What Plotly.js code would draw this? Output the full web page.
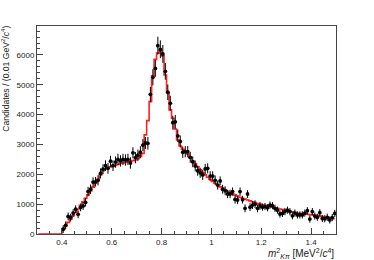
<!DOCTYPE html>
<html><head><meta charset="utf-8">
<script src="https://cdn.plot.ly/plotly-3.0.1.min.js"></script>
<style>html,body{margin:0;padding:0;background:#fff}#chart{width:374px;height:260px}</style>
</head><body><div id="chart"></div>
<script>
// bin width 0.01, data bins from 0.40 to 1.50
const binWidth = 0.01;
const dataStart = 0.40;
const counts = [160,290,590,550,700,830,660,890,940,1060,
  1420,1500,1740,1750,1800,2030,2170,2290,2200,2440,
  2290,2410,2500,2450,2500,2480,2500,2380,2720,2560,
  2640,2740,2980,3050,3040,4680,5250,5550,6312,6190,
  6034,5450,4750,4380,3730,3760,3290,3100,2740,2760,
  2760,2570,2420,2280,2120,2050,1980,2180,2200,1940,
  1940,1800,1640,1780,1500,1450,1340,1340,1420,1160,
  1140,1420,1150,860,1340,900,970,1000,860,940,
  900,920,880,970,950,860,800,670,690,750,
  800,750,610,700,640,640,640,700,780,500,
  750,600,560,715,520,510,560,470,550,690];
const errors = [130,130,130,130,130,130,130,130,130,140,
  160,160,160,160,170,170,170,180,180,180,
  180,190,190,190,190,190,190,190,190,190,
  190,200,200,200,210,250,270,280,300,300,
  300,280,260,250,230,230,210,200,190,190,
  190,180,180,180,170,170,170,170,170,160,
  160,160,150,150,150,150,140,140,140,140,
  140,140,130,130,130,130,130,130,130,130,
  120,120,120,120,120,120,120,120,120,120,
  120,120,120,120,120,120,120,120,120,120,
  120,120,120,120,120,120,120,120,120,120];
// fit histogram, bins from 0.30 to 1.50 (first ten bins empty)
const fitStart = 0.30;
const fitValues = [0,0,0,0,0,0,0,0,0,0,
  150,270,390,500,610,720,840,960,1080,1200,
  1310,1440,1570,1700,1830,1980,2120,2180,2220,2250,
  2280,2300,2330,2360,2380,2400,2420,2440,2460,2480,
  2520,2600,2700,3320,3800,4435,5300,5850,6060,6140,
  5970,5330,4740,4160,3880,3520,3150,2950,2840,2780,
  2680,2560,2450,2350,2250,2150,2060,1980,1900,1830,
  1760,1700,1640,1580,1530,1480,1430,1390,1350,1310,
  1270,1230,1200,1170,1140,1110,1080,1050,1020,1000,
  980,960,940,920,900,880,860,840,820,800,
  780,760,740,720,700,690,680,670,660,650,
  640,630,615,600,585,570,555,540,525,510];
const xTickVals = [0.4,0.6,0.8,1.0,1.2,1.4];
const xTickText = ['0.4','0.6','0.8','1','1.2','1.4'];
const yTickVals = [0,1000,2000,3000,4000,5000,6000];

const xData = counts.map((_, i) => +(dataStart + binWidth*(i+0.5)).toFixed(4));
const xFit = fitValues.map((_, i) => +(fitStart + binWidth*(i+0.5)).toFixed(4));

const traces = [
  {x: xFit, y: fitValues, type: 'scatter', mode: 'lines',
   line: {shape: 'hvh', color: '#ff2020', width: 1.6}, hoverinfo: 'skip'},
  {x: xData, y: counts, type: 'scatter', mode: 'markers',
   marker: {color: '#000', size: 3.8},
   error_y: {type: 'data', array: errors, color: '#000', thickness: 1, width: 0},
   error_x: {type: 'constant', value: binWidth/2, color: '#000', thickness: 1, width: 0}}
];
const font = 'Liberation Sans, Arial, sans-serif';
const layout = {
  width: 374, height: 260,
  margin: {l: 37, r: 38, t: 26, b: 26},
  paper_bgcolor: '#fff', plot_bgcolor: '#fff',
  showlegend: false,
  font: {family: font, size: 8, color: '#222'},
  xaxis: {range: [0.3, 1.5], tickvals: xTickVals, ticktext: xTickText,
    ticks: 'inside', ticklen: 6, tickcolor: '#444', showgrid: false, zeroline: false,
    showline: true, mirror: true, linecolor: '#444', linewidth: 1,
    minor: {dtick: 0.05, tick0: 0, ticks: 'inside', ticklen: 3, tickcolor: '#444', showgrid: false},
    tickfont: {family: font, size: 8, color: '#222'}},
  yaxis: {range: [0, 6970], tickvals: yTickVals,
    ticks: 'inside', ticklen: 6, tickcolor: '#444', showgrid: false, zeroline: false,
    showline: true, mirror: true, linecolor: '#444', linewidth: 1,
    minor: {dtick: 200, tick0: 0, ticks: 'inside', ticklen: 3, tickcolor: '#444', showgrid: false},
    tickfont: {family: font, size: 8, color: '#222'}},
  annotations: [
    {text: 'Candidates / (0.01 GeV<sup>2</sup>/<i>c</i><sup>4</sup>)', xref: 'paper', yref: 'paper',
     x: -0.104, y: 1.01, xanchor: 'center', yanchor: 'top', textangle: -90, showarrow: false,
     font: {family: font, size: 8.6, color: '#222'}},
    {text: '<i>m</i><sup>2</sup><sub><i>K\u03c0</i></sub> [MeV<sup>2</sup>/<i>c</i><sup>4</sup>]', xref: 'paper', yref: 'paper',
     x: 1.0, y: -0.055, xanchor: 'right', yanchor: 'top', showarrow: false,
     font: {family: font, size: 10, color: '#222'}}
  ]
};
Plotly.newPlot('chart', traces, layout, {staticPlot: true});
</script></body></html>
